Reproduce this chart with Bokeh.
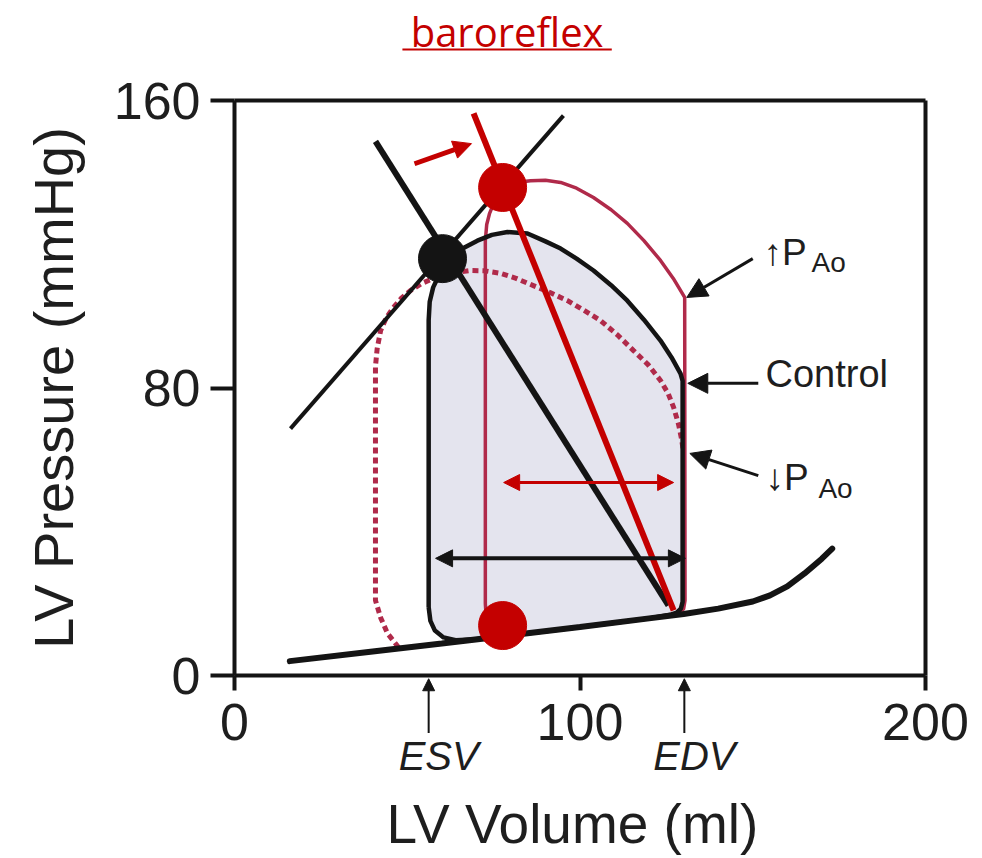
from bokeh.plotting import figure
from bokeh.models import Range1d, FixedTicker, Label, Arrow, NormalHead
from bokeh.embed import file_html
from bokeh.resources import INLINE

# ---------------- data (LV volume in ml, LV pressure in mmHg) ----------------
edpvr_vol = [16, 40, 60, 80, 100, 120, 130, 140, 150, 155, 160, 165, 170, 173]
edpvr_prs = [4.0, 6.7, 8.9, 11.2, 13.5, 15.9, 17.1, 18.6, 20.6, 22.3, 24.8, 28.4, 32.5, 35.3]

espvr_vol = [16.2, 95.2]
espvr_prs = [68.7, 155.8]

control_vol = [56.2, 56.2, 56.5, 57.5, 59.5, 62.0, 66.0, 70.3, 74.5, 79.0, 84.8, 90.0,
               94.4, 99.0, 103.9, 109.0, 113.7, 118.5, 123.3, 126.5, 129.1, 129.7, 129.7,
               129.2, 128.0, 126.5, 120, 110, 100, 90, 80, 70, 64, 60.5, 58.0, 56.7, 56.2]
control_prs = [19.0, 98.8, 104.0, 108.0, 112.0, 115.5, 118.8, 121.0, 122.6, 123.4, 123.0, 120.8,
               118.8, 116.0, 112.7, 108.6, 104.3, 99.0, 93.2, 88.5, 84.0, 82.0, 20.5,
               18.6, 17.5, 17.0, 15.9, 14.7, 13.5, 12.3, 11.2, 10.1, 9.8, 10.6, 12.5, 15.2, 19.0]

high_pao_vol = [73.0, 72.6, 72.6, 73.0, 73.8, 75.5, 77.5, 79.9, 82.5, 85.7, 90.0, 94.4, 99.0,
                103.9, 109.0, 113.7, 118.5, 123.3, 127.0, 130.3, 130.4, 130.0, 129.0, 120,
                110, 100, 90, 80, 75.5, 73.5, 73.0]
high_pao_prs = [14.0, 20.0, 121.0, 125.5, 128.5, 132.5, 134.8, 136.3, 137.3, 137.7, 137.8, 137.2,
                135.6, 133.0, 129.6, 125.8, 121.0, 115.5, 110.5, 105.2, 20.9, 18.6, 17.4, 15.9,
                14.7, 13.5, 12.3, 11.2, 11.0, 12.0, 14.0]

low_pao_vol = [47.5, 44.3, 42.3, 40.8, 40.8, 41.3, 42.3, 43.9, 46.0, 48.3, 50.9, 54.0, 57.6,
               62.5, 68.3, 72.5, 77.0, 81.5, 86.5, 91.5, 96.4, 101.0, 105.9, 110.8, 115.5,
               119.7, 123.3, 125.5, 127.1, 128.5, 129.4, 130.0]
low_pao_prs = [7.8, 11.7, 16.1, 20.9, 86.0, 91.0, 96.0, 99.5, 102.4, 105.0, 107.1, 109.0, 110.5,
               111.9, 112.7, 112.6, 111.9, 110.5, 108.5, 106.5, 104.3, 101.7, 98.8, 94.8, 90.4,
               86.5, 82.1, 78.5, 74.6, 70.0, 65.8, 62.0]

ea_control_vol = [40.8, 125.6]
ea_control_prs = [148.6, 19.5]
ea_baro_vol = [69.2, 127.1]
ea_baro_prs = [156.4, 18.1]

es_control = [60.2, 116.0]
es_baro = [77.6, 135.8]
ed_baro = [77.6, 13.9]

shift_vol = [52.1, 68.6]
shift_prs = [142.4, 148.0]

sv_baro_vol = [77.9, 127.1]
sv_baro_prs = 53.7
sv_control_vol = [58.2, 130.5]
sv_control_prs = 32.6

callout_start_vol = [150.0, 151.6, 151.6]
callout_start_prs = [116.0, 81.3, 55.6]
callout_end_vol = [130.9, 131.2, 131.8]
callout_end_prs = [105.2, 81.3, 61.8]

esv_value = 56.2
edv_value = 130.2

x_ticks = [0, 100, 200]
y_ticks = [0, 80, 160]

# ---------------- styling ----------------
BLACK = "#141414"
RED = "#c40000"
CRIMSON = "#b02a4a"
FILL = "#e4e4ee"
TXT = "#1e1e1e"
FONT = "Liberation Sans"

W, H = 982, 858
X0_PX, X1_PX = 234, 925      # pixel columns of 0 and 200 ml
Y1_PX, Y0_PX = 100, 675      # pixel rows of 160 and 0 mmHg
ppx = (X1_PX - X0_PX) / (x_ticks[-1] - x_ticks[0])
ppy = (Y0_PX - Y1_PX) / (y_ticks[-1] - y_ticks[0])
x_lo, x_hi = x_ticks[0] - X0_PX / ppx, x_ticks[-1] + (W - X1_PX) / ppx
y_lo, y_hi = y_ticks[0] - (H - Y0_PX) / ppy, y_ticks[-1] + Y1_PX / ppy

p = figure(width=W, height=H, x_range=Range1d(x_lo, x_hi), y_range=Range1d(y_lo, y_hi),
           output_backend="svg", toolbar_location=None,
           min_border_left=0, min_border_right=0, min_border_top=0, min_border_bottom=0)
p.background_fill_color = "white"
p.border_fill_color = "white"
p.outline_line_color = None
p.grid.visible = False

p.xaxis.ticker = FixedTicker(ticks=x_ticks)
p.yaxis.ticker = FixedTicker(ticks=y_ticks)
for ax in (p.xaxis[0], p.yaxis[0]):
    ax.axis_line_width = 4
    ax.axis_line_color = BLACK
    ax.major_tick_line_width = 4
    ax.major_tick_line_color = BLACK
    ax.major_tick_in = 0
    ax.minor_tick_in = 0
    ax.minor_tick_out = 0
    ax.major_label_text_font = FONT
    ax.major_label_text_font_size = "52px"
    ax.major_label_text_color = TXT
    ax.axis_label_text_font = FONT
    ax.axis_label_text_font_style = "normal"
    ax.axis_label_text_color = TXT
p.xaxis.fixed_location = 0
p.xaxis.bounds = (x_ticks[0], x_ticks[-1])
p.xaxis.major_tick_out = 15
p.xaxis.major_label_standoff = 13
p.xaxis.axis_label = "LV  Volume (ml)"
p.xaxis.axis_label_text_font_size = "55px"
p.xaxis.axis_label_standoff = 50
p.yaxis.fixed_location = 0
p.yaxis.bounds = (y_ticks[0], y_ticks[-1])
p.yaxis.major_tick_out = 24
p.yaxis.major_label_standoff = 10
p.yaxis.axis_label = "LV Pressure (mmHg)"
p.yaxis.axis_label_text_font_size = "56px"
p.yaxis.axis_label_standoff = 26

# box: top and right borders
p.line([x_ticks[0], x_ticks[-1]], [y_ticks[-1], y_ticks[-1]], line_color=BLACK, line_width=4)
p.line([x_ticks[-1], x_ticks[-1]], [y_ticks[0], y_ticks[-1]], line_color=BLACK, line_width=4)

# loops
p.patch(control_vol, control_prs, fill_color=FILL, line_color=None)
p.line(low_pao_vol, low_pao_prs, line_color=CRIMSON, line_width=5, line_dash="6 4")
p.line(high_pao_vol, high_pao_prs, line_color=CRIMSON, line_width=3.5, line_join="round")
p.line(control_vol, control_prs, line_color=BLACK, line_width=4.5, line_join="round")

# pressure-volume relations
p.line(edpvr_vol, edpvr_prs, line_color=BLACK, line_width=6, line_cap="round")
p.line(espvr_vol, espvr_prs, line_color=BLACK, line_width=4)
p.line(ea_control_vol, ea_control_prs, line_color=BLACK, line_width=6)
p.line(ea_baro_vol, ea_baro_prs, line_color=RED, line_width=6)

# end-systolic points
p.scatter([es_control[0]], [es_control[1]], size=48, color=BLACK)
p.scatter([es_baro[0], ed_baro[0]], [es_baro[1], ed_baro[1]], size=48, color=RED)

# arrows
p.add_layout(Arrow(end=NormalHead(size=18, fill_color=RED, line_color=RED),
                   x_start=shift_vol[0], y_start=shift_prs[0], x_end=shift_vol[1], y_end=shift_prs[1],
                   line_color=RED, line_width=5))
p.add_layout(Arrow(start=NormalHead(size=16, fill_color=RED, line_color=RED),
                   end=NormalHead(size=16, fill_color=RED, line_color=RED),
                   x_start=sv_baro_vol[0], y_start=sv_baro_prs, x_end=sv_baro_vol[1], y_end=sv_baro_prs,
                   line_color=RED, line_width=3))
p.add_layout(Arrow(start=NormalHead(size=17, fill_color=BLACK, line_color=BLACK),
                   end=NormalHead(size=17, fill_color=BLACK, line_color=BLACK),
                   x_start=sv_control_vol[0], y_start=sv_control_prs, x_end=sv_control_vol[1],
                   y_end=sv_control_prs, line_color=BLACK, line_width=4))
for xs, ys, xe, ye in zip(callout_start_vol, callout_start_prs, callout_end_vol, callout_end_prs):
    p.add_layout(Arrow(end=NormalHead(size=20, fill_color=BLACK, line_color=BLACK),
                       x_start=xs, y_start=ys, x_end=xe, y_end=ye, line_color=BLACK, line_width=3))

# texts: y is the wanted baseline; compensate the renderer's baseline placement
BASE_SHIFT = 0.36
def lab(x, y, t, size, font=FONT, color=TXT, **kw):
    p.add_layout(Label(x=x, y=y + BASE_SHIFT * size / ppy, text=t, text_font=font,
                       text_font_size=f"{size}px", text_color=color,
                       text_baseline="alphabetic", **kw))

lab(153.1, 114.1, "\u2191P", 37)
lab(167.0, 112.1, "Ao", 28)
lab(153.7, 80.1, "Control", 38)
lab(153.7, 51.5, "\u2193P", 37)
lab(169.0, 49.2, "Ao", 28)

# ESV / EDV markers under the axis
for v, t in ((esv_value, "ESV"), (edv_value, "EDV")):
    p.add_layout(Arrow(end=NormalHead(size=12, fill_color=BLACK, line_color=BLACK),
                       x_start=v, y_start=-16.0, x_end=v, y_end=-0.9, line_color=BLACK, line_width=2))
    lab(v, -26.4, t, 40, text_align="center", x_offset=10, text_font_style="italic")

# title with underline
lab(78.9, 175.3, "baroreflex", 40, font="Open Sans", color=RED, text_align="center")
p.line([48.6, 109.2], [174.2, 174.2], line_color=RED, line_width=2)

open("out.html", "w").write(file_html(p, INLINE))
